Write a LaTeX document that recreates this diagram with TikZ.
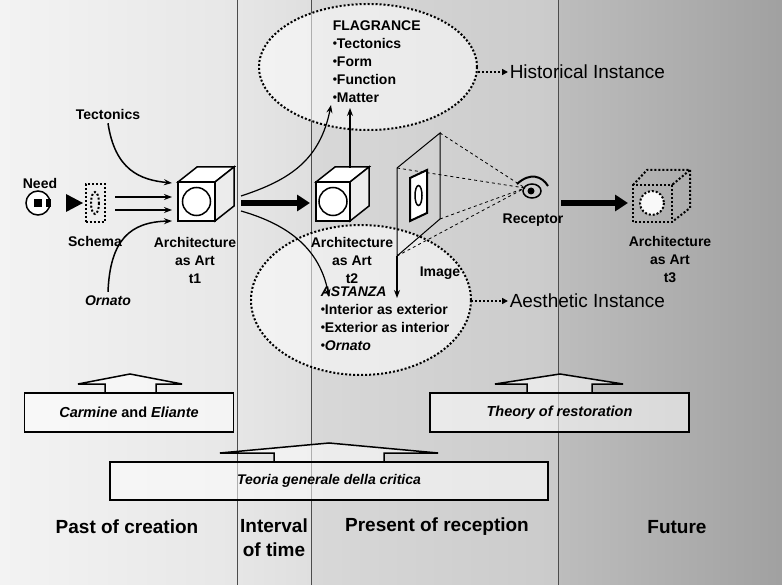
\documentclass[tikz,border=0pt]{standalone}
\usepackage{fontspec}
\setmainfont{Liberation Sans}
\usetikzlibrary{positioning,arrows.meta,shapes.geometric}

\definecolor{bandA}{HTML}{F3F3F3}
\definecolor{bandB}{HTML}{E6E6E6}
\definecolor{bandC}{HTML}{DADADA}
\definecolor{bandD}{HTML}{BDBDBD}

\newcommand\bul{{\fontsize{12}{12}\selectfont\raisebox{1pt}{\textbullet}}}

\tikzset{
  lbl/.style={font=\bfseries\fontsize{14}{18}\selectfont, align=center},
  inst/.style={font=\fontsize{19}{22}\selectfont, anchor=west, inner sep=1pt},
  era/.style={font=\bfseries\fontsize{19}{24}\selectfont, align=center},
  flow/.style={-{Stealth[length=8pt,width=6pt]}, line width=1.5pt},
  bigflow/.style={-{Triangle[length=13pt,width=16pt]}, line width=6pt},
  blockbox/.style={draw, line width=1.5pt, fill=white, fill opacity=.55, text opacity=1,
    font=\bfseries\itshape\fontsize{14.5}{17}\selectfont},
}

% cube: front upper-left corner, width, height, style
\newcommand\archcube[4]{%
  \begin{scope}[shift={(#1)}, #4]
  \filldraw[fill=white] (0,0) rectangle (#2,#3);
  \filldraw[fill=white] (0,0) -- (19,-15) -- (#2+19,-15) -- (#2,0) -- cycle;
  \filldraw[fill=gray!15] (#2,0) -- (#2+19,-15) -- (#2+19,#3-15) -- (#2,#3) -- cycle;
  \draw (#2/2,#3/2) circle (14);
  \end{scope}}

% upward arrow on a box: box top, stem l, stem r, base l, base r, apex x
\newcommand\blockarrow[6]{%
  \filldraw[line width=1.5pt, fill=white, fill opacity=.55]
    (#2,#1) -- (#2,#1-9) -- (#4,#1-9) -- (#6,#1-19) -- (#5,#1-9) -- (#3,#1-9) -- (#3,#1) -- cycle;}

\begin{document}
\begin{tikzpicture}[x=1pt, y=-1pt, line width=1.5pt, line join=miter]
\useasboundingbox (0,0) rectangle (782,585);

% time bands
\shade[left color=bandA, right color=bandA!95!black, draw=none] (0,0) rectangle (237,585);
\shade[left color=bandB, right color=bandB!97!black, draw=none] (237,0) rectangle (311,585);
\shade[left color=bandC!105!white, right color=bandC!93!black, draw=none] (311,0) rectangle (558,585);
\shade[left color=bandD, right color=bandD!85!black, draw=none] (558,0) rectangle (782,585);
\foreach \x in {237,311,558}{
\draw[line width=1pt, black!70] (\x,0) -- (\x,585);
}

% instances
\node[ellipse, draw, dotted, line width=2pt, fill=white, fill opacity=.55,
  minimum width=218pt, minimum height=126pt] (flag) at (368,67) {};
\node[ellipse, draw, dotted, line width=2pt, fill=white, fill opacity=.55,
  minimum width=220pt, minimum height=150pt] (ast) at (361,300) {};

\node[lbl, anchor=north west, align=left, inner sep=0pt] (flagtxt) at (332,20)
  {FLAGRANCE\\\bul Tectonics\\\bul Form\\\bul Function\\\bul Matter};
\node[lbl, anchor=north west, align=left, inner sep=0pt] (asttxt) at (320,286)
  {\itshape ASTANZA\\\bul Interior as exterior\\\bul Exterior as interior\\\bul\itshape Ornato};

\node[inst] (hist) at (508,72) {Historical Instance};
\node[inst] (aest) at (508,301) {Aesthetic Instance};
\draw[dotted, line width=2pt, -{Triangle[length=6pt,width=6pt]}] (flag.east |- hist) -- (hist.west);
\draw[dotted, line width=2pt, -{Triangle[length=6pt,width=6pt]}] (471,301) -- (aest.west);

% need and schema
\node[circle, draw, fill=white, minimum size=24pt, inner sep=0pt] (need) at (38,203) {};
\fill (34,199) rectangle (42,207);
\fill (46,199) rectangle (51,207);
\node[lbl] (needlbl) at (40,183) {Need};
\fill (66,194) -- (83,203) -- (66,212) -- cycle;
\node[draw, dotted, line width=2pt, minimum width=19pt, minimum height=38pt, inner sep=0pt] (schema) at (95,203) {};
\draw[dotted, line width=2pt] (95,203) ellipse (4 and 11);
\node[lbl] (schemalbl) at (95,241) {Schema};

% architecture t1
\archcube{178,182}{37}{39}{}
\node[lbl] (t1) at (195,260) {Architecture\\as Art\\t1};
\node[lbl] (tect) at (108,114) {Tectonics};
\node[lbl] (orn) at (108,301) {\itshape Ornato};
\draw[flow] (tect.south) .. controls (115,170) and (140,180) .. (172,183);
\draw[flow] (orn.north) .. controls (110,240) and (130,222) .. (172,221);
\draw[flow] (115,197) -- (172,197);
\draw[flow] (115,210) -- (172,210);

% architecture t2
\archcube{316,182}{34}{39}{}
\node[lbl] (t2) at (352,260) {Architecture\\as Art\\t2};
\draw[bigflow] (241,203) -- (310,203);
\draw[flow, line width=1.2pt] (241,196) .. controls (290,180) and (320,160) .. (331,105);
\draw[flow, line width=1.2pt] (241,211) .. controls (290,225) and (320,250) .. (329,297);
\draw[flow, line width=1.2pt] (350,168) -- (350,108);

% image plane
\coordinate (p1) at (397,168);
\coordinate (p2) at (440,133);
\coordinate (p3) at (440,219);
\coordinate (p4) at (397,256);
\coordinate (eye) at (525,188);
\draw[line width=1pt] (p1) -- (p2) -- (p3) -- (p4) -- cycle;
\filldraw[fill=white, line width=2pt] (410,178) -- (427,170) -- (427,213) -- (410,221) -- cycle;
\draw[line width=1.5pt] (418.5,195.5) ellipse (3.5 and 10);
\foreach \p in {p1,p2,p3,p4}{
\draw[dashed, line width=.8pt] (\p) -- (eye);
}
\draw[flow, line width=1.2pt] (p4) -- (397,298);
\node[lbl] (imglbl) at (440,273) {Image};

% receptor
\draw[line width=2pt] (517,184) .. controls (530,172) and (542,176) .. (548,186);
\draw[line width=1.5pt] (532,191) ellipse (9 and 7);
\fill (531,191) circle (3.5);
\node[lbl] (rec) at (533,220) {Receptor};

% architecture t3
\draw[bigflow] (561,203) -- (628,203);
\begin{scope}[dotted, line width=2pt]
\draw (633,222) rectangle (672,185);
\draw (633,185) -- (647,170) -- (690,170) -- (672,185);
\draw (690,170) -- (690,208) -- (672,222);
\draw[fill=white!95!gray] (652,203) circle (12);
\end{scope}
\node[lbl] (t3) at (670,260) {Architecture\\as Art\\t3};

% theories
\blockarrow{393}{105}{156}{78}{182}{130}
\node[blockbox, minimum width=209pt, minimum height=39pt] (carm) at (129,412.5) {};
\node[font=\bfseries\fontsize{14.5}{17}\selectfont] at (carm) {\itshape Carmine \upshape and \itshape Eliante};
\blockarrow{393}{527}{592}{495}{623}{560}
\node[blockbox, minimum width=259pt, minimum height=39pt] (rest) at (559.5,412.5) {Theory of restoration};
\blockarrow{462}{274}{384}{220}{438}{329}
\node[blockbox, minimum width=438pt, minimum height=38pt, font=\bfseries\itshape\fontsize{14}{17}\selectfont] (crit) at (329,481) {Teoria generale della critica};

% eras
\node[era] (past) at (127,527) {Past of creation};
\node[era, anchor=north] (interval) at (274,515) {Interval\\of time};
\node[era] (present) at (437,527) {Present of reception};
\node[era] (future) at (677,527) {Future};
\end{tikzpicture}
\end{document}
